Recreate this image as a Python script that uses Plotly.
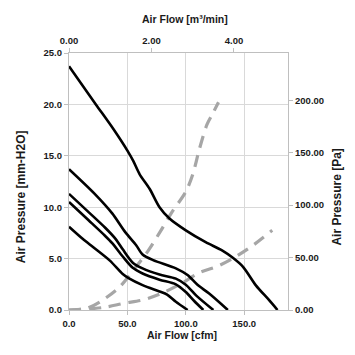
import plotly.graph_objects as go

# Fan curves: air flow [cfm] vs static pressure [mm-H2O]
c1_x = [0, 23, 38, 50, 55, 60.5, 69, 77.5, 86, 100, 117, 131, 140, 149, 160, 171, 178.5]
c1_y = [23.7, 20.0, 17.6, 15.5, 14.5, 13.2, 11.8, 10.0, 8.9, 7.75, 6.6, 5.8, 5.1, 4.2, 2.4, 1.0, 0]

c2_x = [0, 22, 37, 48, 57.5, 63, 72, 91.5, 101.5, 110, 120, 136]
c2_y = [13.7, 11.3, 9.4, 7.6, 6.3, 5.4, 4.85, 4.05, 3.4, 2.45, 1.6, 0]

c3_x = [0, 17, 31, 40, 46, 54.6, 63, 77.5, 91.5, 100, 109, 123.6]
c3_y = [11.3, 9.5, 8.0, 6.9, 5.9, 4.6, 4.05, 3.45, 3.05, 2.45, 1.4, 0]

c4_x = [0, 17, 31, 37, 46, 54.6, 63, 77.5, 91.5, 100, 107, 115]
c4_y = [10.5, 8.7, 7.2, 6.5, 5.2, 4.1, 3.55, 2.95, 2.5, 1.75, 0.9, 0]

c5_x = [0, 11.4, 20.8, 35, 46, 51, 63, 77.5, 84, 91.5, 101.6]
c5_y = [8.1, 6.95, 6.1, 4.8, 3.5, 3.1, 2.42, 1.8, 1.5, 0.8, 0]

# System impedance curves (dashed)
s1_x = [0, 15, 28, 43, 56, 68, 78, 88, 100, 106, 111.5, 118, 123, 128]
s1_y = [0, 0.15, 0.9, 2.2, 4.0, 5.8, 7.6, 9.5, 11.5, 13.2, 15.6, 18.0, 19.1, 20.2]

s2_x = [0, 30, 47, 64, 79, 95, 112, 126, 140, 157, 174]
s2_y = [0, 0.25, 0.65, 1.0, 1.6, 2.5, 3.65, 4.2, 5.0, 6.25, 7.75]

x_ticks_cfm = [0, 50, 100, 150]
x_ticks_m3 = [0, 2, 4]
y_ticks_mm = [0, 5, 10, 15, 20, 25]
y_ticks_pa = [0, 50, 100, 150, 200]

CFM_PER_M3MIN = 35.3147
PA_PER_MM = 9.80665
X_MAX = 187.5
Y_MAX = 25

FONT = "Liberation Sans, Arial, sans-serif"
TXT = "#1a1a1a"
GRID = "#d9d9d9"
LINE = "#bfbfbf"

fig = go.Figure()
for xs, ys in [(s1_x, s1_y), (s2_x, s2_y)]:
    fig.add_trace(go.Scatter(x=xs, y=ys, mode="lines",
                             line=dict(color="#a6a6a6", width=3.2, dash="12px,8px",
                                       shape="spline", smoothing=0.8),
                             showlegend=False, hoverinfo="skip"))
for xs, ys in [(c1_x, c1_y), (c2_x, c2_y), (c3_x, c3_y), (c4_x, c4_y), (c5_x, c5_y)]:
    fig.add_trace(go.Scatter(x=xs, y=ys, mode="lines",
                             line=dict(color="#000000", width=2.6,
                                       shape="spline", smoothing=0.8),
                             showlegend=False, hoverinfo="skip"))
# invisible trace to carry the secondary axes
fig.add_trace(go.Scatter(x=[0], y=[0], xaxis="x2", yaxis="y2", mode="markers",
                         marker=dict(opacity=0), showlegend=False, hoverinfo="skip"))

tickfont = dict(family=FONT, size=9.5, color=TXT, weight="bold")
hfont = dict(family=FONT, size=10.5, color=TXT, weight="bold")
vfont = dict(family=FONT, size=12, color=TXT, weight="bold")

common = dict(zeroline=False, showline=True, linecolor=LINE, linewidth=1.3,
              ticks="outside", ticklen=4, tickcolor=LINE, tickwidth=1.2,
              tickfont=tickfont)

fig.update_layout(
    width=347, height=347,
    margin=dict(l=61, r=66.5, t=44.5, b=45),
    paper_bgcolor="white", plot_bgcolor="white",
    font=dict(family=FONT, color=TXT),
    xaxis=dict(range=[0, X_MAX], tickvals=x_ticks_cfm, tickformat=".1f",
               showgrid=True, gridcolor=GRID, gridwidth=1.3, **common),
    xaxis2=dict(range=[0, X_MAX / CFM_PER_M3MIN], tickvals=x_ticks_m3, tickformat=".2f",
                overlaying="x", side="top", showgrid=False, **common),
    yaxis=dict(range=[0, Y_MAX], tickvals=y_ticks_mm, tickformat=".1f",
               showgrid=True, gridcolor=GRID, gridwidth=1.3, **common),
    yaxis2=dict(range=[0, Y_MAX * PA_PER_MM], tickvals=y_ticks_pa, tickformat=".2f",
                overlaying="y", side="right", showgrid=False, **common),
    annotations=[
        dict(text="Air Flow [cfm]", xref="paper", yref="paper", x=0.515, y=-0.097,
             showarrow=False, font=hfont, xanchor="center", yanchor="middle"),
        dict(text="Air Flow [m³/min]", xref="paper", yref="paper", x=0.528, y=1.134,
             showarrow=False, font=hfont, xanchor="center", yanchor="middle"),
        dict(text="Air Pressure [mm-H2O]", xref="paper", yref="paper", x=-0.219, y=0.439,
             showarrow=False, font=vfont, textangle=-90, xanchor="center", yanchor="middle"),
        dict(text="Air Pressure [Pa]", xref="paper", yref="paper", x=1.2255, y=0.439,
             showarrow=False, font=vfont, textangle=-90, xanchor="center", yanchor="middle"),
    ],
)

fig.write_html("out.html")
